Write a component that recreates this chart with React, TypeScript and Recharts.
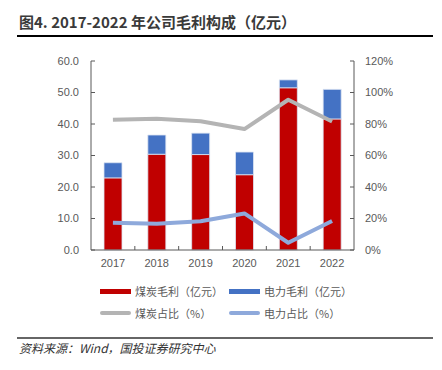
import { ComposedChart, Bar, Line, XAxis, YAxis } from "recharts";

// values
const years = ["2017", "2018", "2019", "2020", "2021", "2022"];
const coalProfit = [22.9, 30.4, 30.3, 23.9, 51.5, 41.6];
const powerProfit = [4.8, 6.1, 6.8, 7.2, 2.5, 9.4];
const coalShare = [82.7, 83.3, 81.7, 76.8, 95.4, 81.6];
const powerShare = [17.3, 16.7, 18.3, 23.2, 4.6, 18.4];

const leftTicks = [0, 10, 20, 30, 40, 50, 60];
const rightTicks = [0, 20, 40, 60, 80, 100, 120];

const seriesNames = ["煤炭毛利（亿元）", "电力毛利（亿元）", "煤炭占比（%）", "电力占比（%）"];

const RED = "#C00000";
const BLUE = "#4472C4";
const GRAY = "#B4B4B4";
const LIGHT_BLUE = "#8EA9DB";
const AXIS = "#595959";
const TEXT = "#595959";

const data = years.map((year, i) => ({
  year,
  coal: coalProfit[i],
  power: powerProfit[i],
  coalShare: coalShare[i],
  powerShare: powerShare[i],
}));

const X_MARGIN = 9;

// category labels + small inward tick marks between the categories
const XTick = (props: any) => {
  const { x, y, payload, index, visibleTicksCount } = props;
  const half = payload?.offset ?? 0;
  const axisY = y - X_MARGIN;
  return (
    <g>
      <text
        x={x}
        y={y}
        dy="0.71em"
        textAnchor="middle"
        fill={TEXT}
        fontSize={11}
        fontFamily="Liberation Sans, Arial, sans-serif"
      >
        {payload.value}
      </text>
      {index < visibleTicksCount - 1 && (
        <line x1={x + half} x2={x + half} y1={axisY} y2={axisY - 4} stroke={AXIS} strokeWidth={1} />
      )}
    </g>
  );
};

const tickStyle = { fill: TEXT, fontSize: 11, fontFamily: "Liberation Sans, Arial, sans-serif" };

function LegendItem({ color, label, thin }: { color: string; label: string; thin?: boolean }) {
  return (
    <div style={{ display: "flex", alignItems: "center", width: 129 }}>
      <div
        style={{
          width: 31,
          height: thin ? 4 : 5,
          background: color,
          borderRadius: thin ? 2 : 0,
          marginRight: 4,
        }}
      />
      <span style={{ fontSize: 11, color: TEXT, whiteSpace: "nowrap" }}>{label}</span>
    </div>
  );
}

export default function App() {
  return (
    <div
      style={{
        position: "absolute",
        left: 0,
        top: 0,
        width: 442,
        height: 370,
        background: "#fff",
        fontFamily: "'Noto Sans CJK SC', 'Liberation Sans', sans-serif",
        overflow: "hidden",
      }}
    >
      <div
        style={{
          position: "absolute",
          left: 19,
          top: 12,
          fontSize: 15,
          fontWeight: 700,
          color: "#3a3a3a",
          whiteSpace: "nowrap",
          lineHeight: "20px",
        }}
      >
        图4. 2017-2022 年公司毛利构成（亿元）
      </div>
      <div style={{ position: "absolute", left: 17, top: 35, width: 416, height: 1.5, background: "#000" }} />

      <div style={{ position: "absolute", left: 0, top: 0 }}>
        <ComposedChart
          width={442}
          height={370}
          data={data}
          margin={{ top: 61, left: 41, right: 38, bottom: 90 }}
        >
          <XAxis
            dataKey="year"
            height={30}
            tickSize={0}
            tickMargin={X_MARGIN}
            tick={<XTick />}
            axisLine={{ stroke: AXIS, strokeWidth: 1 }}
          />
          <YAxis
            yAxisId="left"
            width={50}
            domain={[0, 60]}
            ticks={leftTicks}
            tickFormatter={(v: number) => v.toFixed(1)}
            tickSize={-4}
            tickMargin={16}
            tick={tickStyle}
            tickLine={{ stroke: AXIS }}
            axisLine={{ stroke: AXIS, strokeWidth: 1 }}
          />
          <YAxis
            yAxisId="right"
            orientation="right"
            width={50}
            domain={[0, 120]}
            ticks={rightTicks}
            tickFormatter={(v: number) => `${v}%`}
            tickSize={-4}
            tickMargin={15}
            tick={{ ...tickStyle, textAnchor: "start" }}
            tickLine={{ stroke: AXIS }}
            axisLine={{ stroke: AXIS, strokeWidth: 1 }}
          />
          <Bar
            yAxisId="left"
            dataKey="coal"
            name={seriesNames[0]}
            stackId="a"
            fill={RED}
            stroke="#DDE5F3"
            strokeWidth={0.8}
            barSize={18}
            isAnimationActive={false}
          />
          <Bar
            yAxisId="left"
            dataKey="power"
            name={seriesNames[1]}
            stackId="a"
            fill={BLUE}
            stroke="#DDE5F3"
            strokeWidth={0.8}
            barSize={18}
            isAnimationActive={false}
          />
          <Line
            yAxisId="right"
            type="linear"
            dataKey="coalShare"
            name={seriesNames[2]}
            stroke={GRAY}
            strokeWidth={4}
            strokeLinejoin="round"
            dot={false}
            isAnimationActive={false}
          />
          <Line
            yAxisId="right"
            type="linear"
            dataKey="powerShare"
            name={seriesNames[3]}
            stroke={LIGHT_BLUE}
            strokeWidth={4}
            strokeLinejoin="round"
            dot={false}
            isAnimationActive={false}
          />
        </ComposedChart>
      </div>

      <div style={{ position: "absolute", left: 100, top: 283, display: "flex" }}>
        <LegendItem color={RED} label={seriesNames[0]} />
        <LegendItem color={BLUE} label={seriesNames[1]} />
      </div>
      <div style={{ position: "absolute", left: 100, top: 305, display: "flex" }}>
        <LegendItem color={GRAY} label={seriesNames[2]} thin />
        <LegendItem color={LIGHT_BLUE} label={seriesNames[3]} thin />
      </div>

      <div style={{ position: "absolute", left: 17, top: 337, width: 416, height: 2, background: "#666" }} />
      <div
        style={{
          position: "absolute",
          left: 19,
          top: 340,
          fontSize: 12,
          fontStyle: "italic",
          color: "#333",
          whiteSpace: "nowrap",
          lineHeight: "16px",
        }}
      >
        资料来源：Wind，国投证券研究中心
      </div>
    </div>
  );
}
